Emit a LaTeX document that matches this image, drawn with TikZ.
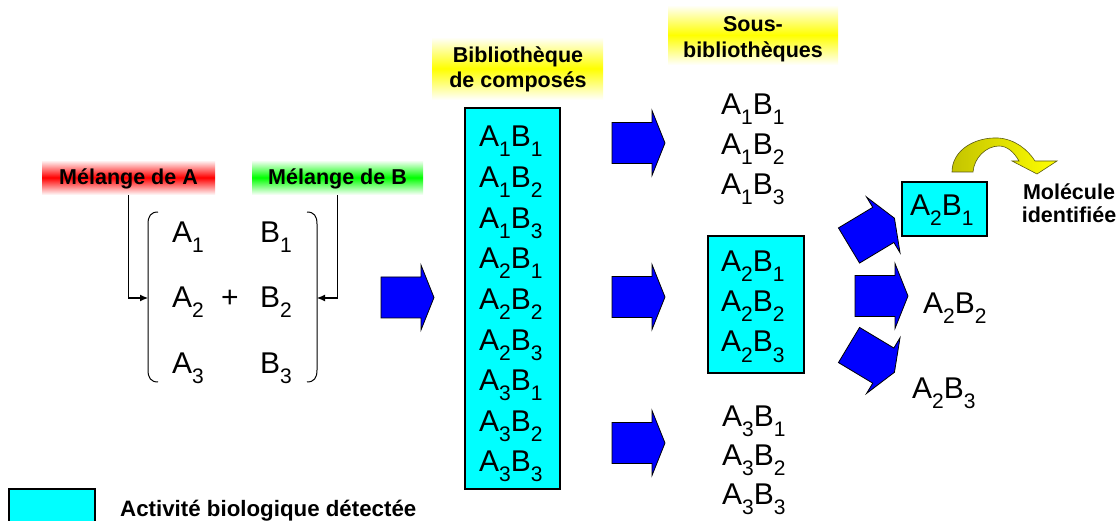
\documentclass[tikz,border=0pt]{standalone}
\usepackage{fontspec}
\setmainfont{Liberation Sans}
\usetikzlibrary{arrows.meta}
\definecolor{darkyel}{RGB}{196,196,0}
\definecolor{yelline}{RGB}{90,90,20}
\definecolor{aqua}{RGB}{0,255,255}
\definecolor{pureblue}{RGB}{0,0,255}
\definecolor{purered}{RGB}{255,0,0}
\definecolor{puregreen}{RGB}{0,255,0}
\definecolor{pureyellow}{RGB}{255,255,0}
\newcommand{\subs}[1]{\raisebox{-10pt}{\fontsize{21}{21}\selectfont #1}}
\newcommand{\AB}[2]{A\subs{#1}B\subs{#2}}
\tikzset{
  blockarrow/.pic={\draw[fill=pureblue, draw=black, line width=0.8pt, line join=miter]
     (0,-20.5) -- (40,-20.5) -- (40,-32.5) -- (53,0) -- (40,32.5) -- (40,20.5) -- (0,20.5) -- cycle;}
}
\begin{document}
\begin{tikzpicture}[x=1pt,y=-1pt,
  big/.style={font=\fontsize{30}{30}\selectfont, inner sep=0pt, anchor=base west},
  lbl/.style={font=\bfseries\fontsize{21.5}{23}\selectfont, inner sep=0pt, anchor=base},
  cyanbox/.style={draw=black, line width=1.2pt, fill=aqua, inner sep=0pt},
  band/.style={shading=axis, top color=white, bottom color=white, inner sep=0pt},
  conn/.style={line width=1.1pt, -{Latex[length=8pt,width=7pt]}},
  bracket/.style={line width=1pt}
]
\useasboundingbox (0,0) rectangle (1119,521);
\fill[white] (0,0) rectangle (1119,521);

% gradient bands
\node[band, middle color=purered, minimum width=173pt, minimum height=35pt] (melA) at (128.5,177.5) {};
\node[band, middle color=puregreen, minimum width=171pt, minimum height=35pt] (melB) at (337.5,177.5) {};
\node[band, middle color=pureyellow, minimum width=171pt, minimum height=63pt] (bibband) at (517.5,68.5) {};
\node[band, middle color=pureyellow, minimum width=170pt, minimum height=60pt] (sousband) at (753,35) {};

% labels
\node[lbl] (melAt) at (128.5,185) {Mélange de A};
\node[lbl] (melBt) at (337.5,185) {Mélange de B};
\node[lbl] (bib1) at (518,63) {Bibliothèque};
\node[lbl] (bib2) at (518,88) {de composés};
\node[lbl] (sous1) at (753,32) {Sous-};
\node[lbl] (sous2) at (753,58) {bibliothèques};
\node[lbl] (mol1) at (1069,200) {Molécule};
\node[lbl] (mol2) at (1069,223) {identifiée};
\node[lbl, anchor=base west, font=\bfseries\fontsize{22.3}{23}\selectfont] (leg) at (120,516) {Activité biologique détectée};

% cyan boxes
\node[cyanbox, minimum width=95pt, minimum height=381pt] (libbox) at (512.5,298.5) {};
\node[cyanbox, minimum width=96pt, minimum height=137pt] (midbox) at (756,304.5) {};
\node[cyanbox, minimum width=85pt, minimum height=54pt] (hitbox) at (944.5,209) {};
\node[cyanbox, minimum width=86pt, minimum height=36pt] (legbox) at (52,507) {};

% mixture
\node[big] (a1) at (172,243) {A\subs{1}};
\node[big] (a2) at (172,308) {A\subs{2}};
\node[big] (a3) at (172,373) {A\subs{3}};
\node[big] (b1) at (260,243) {B\subs{1}};
\node[big] (b2) at (260,308) {B\subs{2}};
\node[big] (b3) at (260,373) {B\subs{3}};
\node[big, anchor=base] (plus) at (230,308) {+};
\draw[bracket] (158,212) .. controls (151,212) and (148,216) .. (148,224) -- (148,370) .. controls (148,378) and (151,382) .. (158,382);
\draw[bracket] (307,212) .. controls (314,212) and (317,216) .. (317,224) -- (317,370) .. controls (317,378) and (314,382) .. (307,382);
\coordinate (inA) at (148,298);
\coordinate (inB) at (317,298);
\draw[conn] (melA.south) |- (inA);
\draw[conn] (melB.south) |- (inB);

% library
\foreach \a/\b [count=\i from 0] in {1/1,1/2,1/3,2/1,2/2,2/3,3/1,3/2,3/3}
  \node[big] (lib\i) at (479,{147+40.6*\i}) {\AB{\a}{\b}};

% sub-libraries
\node[big] (s11) at (721,115) {\AB{1}{1}};
\node[big] (s12) at (721,155) {\AB{1}{2}};
\node[big] (s13) at (721,195) {\AB{1}{3}};
\node[big] (s21) at (721,272) {\AB{2}{1}};
\node[big] (s22) at (721,312) {\AB{2}{2}};
\node[big] (s23) at (721,352) {\AB{2}{3}};
\node[big] (s31) at (722,426) {\AB{3}{1}};
\node[big] (s32) at (722,465) {\AB{3}{2}};
\node[big] (s33) at (722,504) {\AB{3}{3}};

% deconvolution
\node[big] (h21) at (910,216) {\AB{2}{1}};
\node[big] (r22) at (923,313) {\AB{2}{2}};
\node[big] (r23) at (912,398) {\AB{2}{3}};

% block arrows
\pic at (381,297.5) {blockarrow};
\pic at (612,143) {blockarrow};
\pic at (612,297) {blockarrow};
\pic at (612,443) {blockarrow};
\pic at (855,296) {blockarrow};
\pic[rotate=31] at (849,245.5) {blockarrow};
\pic[rotate=-31] at (849,345) {blockarrow};

% curved yellow arrow
\draw[draw=yelline, line width=0.6pt, line join=miter, left color=darkyel, right color=pureyellow]
  (952,172) .. controls (952,150) and (975,137) .. (998,138)
  .. controls (1015,139) and (1028,150) .. (1035,161)
  -- (1057,161) -- (1037,174) -- (1012,161) -- (1019,161)
  .. controls (1014,152) and (1007,146) .. (999,146)
  .. controls (986,146) and (974,158) .. (973,172) -- cycle;
\end{tikzpicture}
\end{document}
